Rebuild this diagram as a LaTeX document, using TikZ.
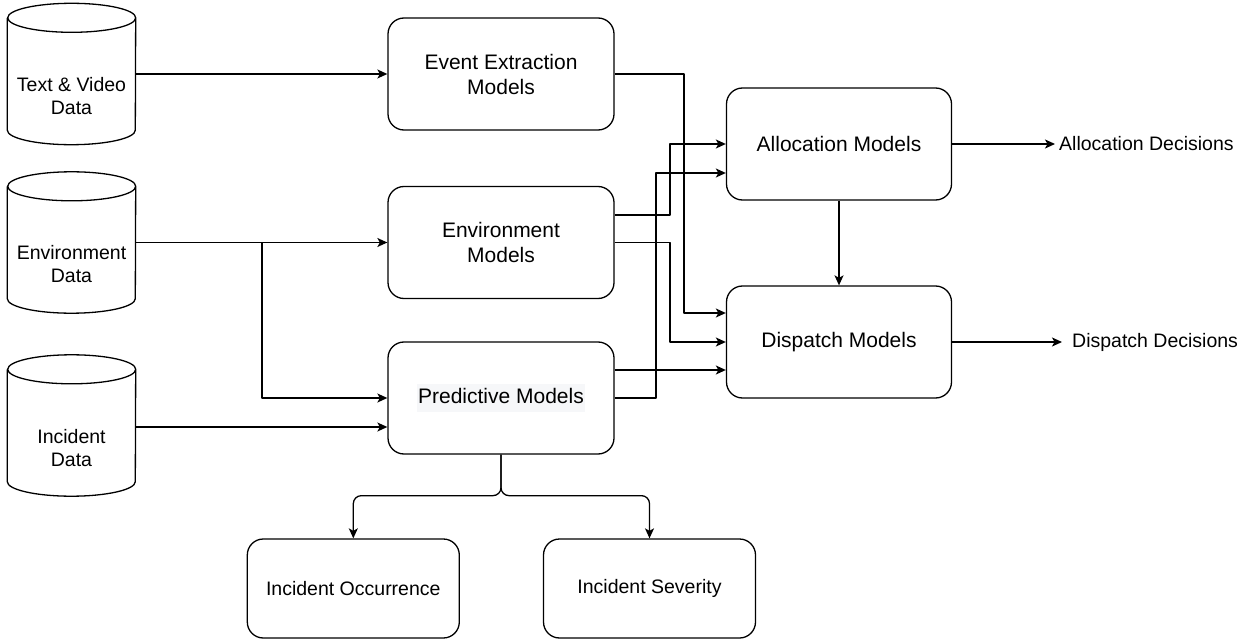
\documentclass[tikz,border=0pt]{standalone}
\usepackage{fontspec}
\setmainfont{Liberation Sans}
\usetikzlibrary{arrows.meta,calc}
\definecolor{hl}{RGB}{246,247,249}
\newcommand\dfont{\fontsize{19.5}{23}\selectfont}
\newcommand\bfontx{\fontsize{21}{25}\selectfont}
\newcommand\drawcyl[1]{%
  \draw[line, fill=white] ([yshift=-14.5pt]#1.north west) -- ([yshift=14.5pt]#1.south west)
    arc[start angle=180,end angle=360,x radius=64pt,y radius=14.5pt]
    -- ([yshift=-14.5pt]#1.north east)
    arc[start angle=0,end angle=180,x radius=64pt,y radius=14.5pt]
    arc[start angle=180,end angle=360,x radius=64pt,y radius=14.5pt];}
\begin{document}
\begin{tikzpicture}[x=1pt,y=-1pt,
  line/.style={line width=1.3pt, line join=round, draw=black},
  arr/.style={line, -{Stealth[length=10pt,width=9pt,inset=2.5pt]}},
  box/.style={line, rounded corners=16pt, fill=white, align=center, font=\dfont, inner sep=0pt},
  midbox/.style={box, font=\bfontx, minimum width=226pt, minimum height=112pt},
  rbox/.style={box, font=\bfontx, minimum width=225pt, minimum height=112pt},
  bbox/.style={box, minimum width=212pt, minimum height=99pt},
  cyl/.style={minimum width=128pt, minimum height=141pt, inner sep=0pt},
  txt/.style={align=center, font=\dfont, inner sep=0pt},
  outl/.style={font=\dfont, anchor=west, inner ysep=0pt}]
\useasboundingbox (0,0) rectangle (1253,639);

% cylinders
\node[cyl] (td) at (71.5,74) {};
\node[cyl] (ed) at (71.5,242.5) {};
\node[cyl] (id) at (71.5,425.5) {};
\drawcyl{td}
\drawcyl{ed}
\drawcyl{id}
\node[txt] (tdl) at (71.5,96) {Text \& Video\\Data};
\node[txt] (edl) at (71.5,264.5) {Environment\\Data};
\node[txt] (idl) at (71.5,448) {Incident\\Data};

% middle boxes
\node[midbox] (ee) at (501,74) {Event Extraction\\Models};
\node[midbox] (em) at (501,242.5) {Environment\\Models};
\node[midbox] (pm) at (501,398) {\setlength\fboxsep{1.5pt}\colorbox{hl}{\strut Predictive Models}};

% right boxes
\node[rbox] (am) at (839,144) {Allocation Models};
\node[rbox] (dm) at (839,342) {Dispatch Models};

% bottom boxes
\node[bbox] (io) at (353.3,588.5) {Incident Occurrence};
\node[bbox] (is) at (649.5,588.5) {Incident Severity};

% output labels
\node[outl, inner xsep=4pt] (adl) at (1055,144) {Allocation Decisions};
\node[outl, inner xsep=10pt] (ddl) at (1062,342) {Dispatch Decisions};

% connectors from data
\draw[arr] (td.east) -- (ee.west);
\draw[arr] (ed.east) -- (em.west);
\coordinate (br) at (262,242.5);
\draw[arr] (br) |- (pm.west);
\coordinate (pin2) at ([yshift=-29pt]pm.west);
\draw[arr] (id.east |- pin2) -- (pin2);

% to allocation / dispatch
\coordinate (din1) at ([yshift=29pt]dm.west);
\draw[arr] (ee.east) -- (684,74) |- (din1);
\draw[arr] ([yshift=27.5pt]em.east) -- (670,215) |- (am.west);
\draw[arr] (em.east) -- (670,242.5) |- (dm.west);
\coordinate (ain2) at ([yshift=-29pt]am.west);
\draw[arr] (pm.east) -- (656,398) |- (ain2);
\coordinate (pout) at ([yshift=28pt]pm.east);
\draw[arr] (pout) -- (pout -| dm.west);

\draw[arr] (am.south) -- (dm.north);
\draw[arr] (am.east) -- (adl.west);
\draw[arr] (dm.east) -- (ddl.west);

% predictive split
\draw[arr, rounded corners=8pt] (pm.south) -- ++(0,41) -| (io.north);
\draw[arr, rounded corners=8pt] (pm.south) -- ++(0,41) -| (is.north);
\end{tikzpicture}
\end{document}
